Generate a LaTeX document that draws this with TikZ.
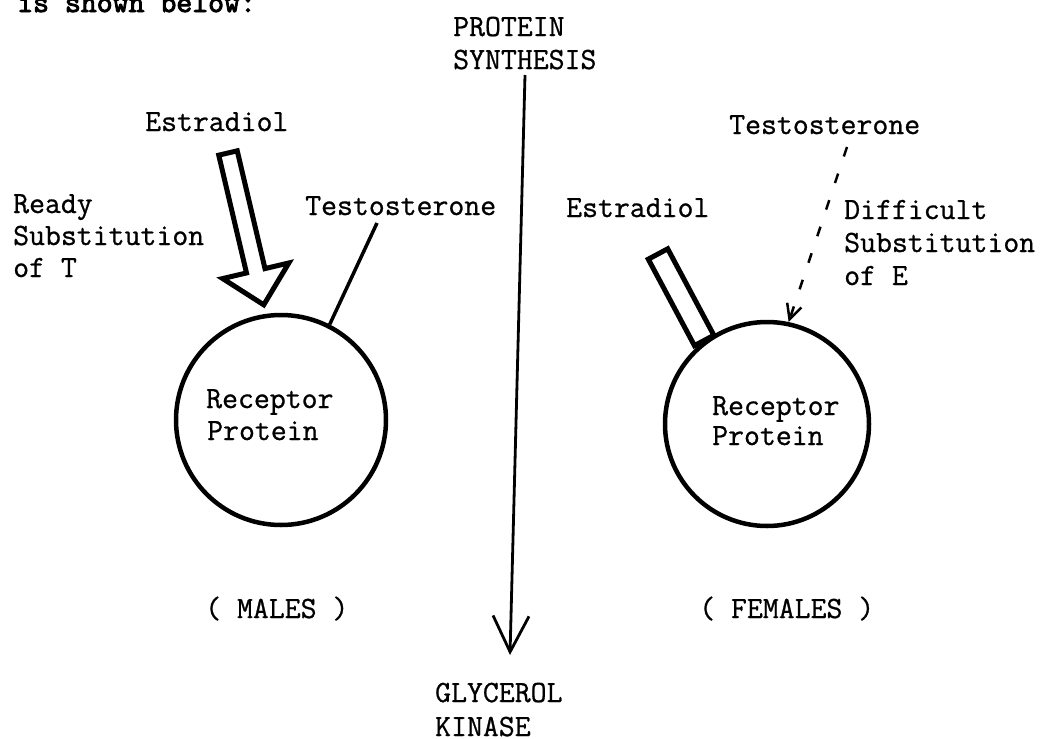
\documentclass[tikz,border=0pt]{standalone}
\usepackage{fontspec}
\newfontfamily\tw[FakeBold=0.8]{Latin Modern Mono}
\newfontfamily\twbold[FakeBold=3]{Latin Modern Mono}
\usetikzlibrary{arrows.meta}
\begin{document}
\begin{tikzpicture}[x=1pt,y=-1pt,
  lbl/.style={font=\tw\fontsize{30.9}{32}\selectfont, inner sep=0pt, anchor=base west},
  ring/.style={circle, draw, line width=4.5pt, inner sep=0pt},
  hormone/.style={draw, line width=5pt, fill=white, line join=miter},
  link/.style={line width=3.5pt},
  weaklink/.style={line width=2.5pt, dash pattern=on 10pt off 18pt, -{Straight Barb[length=15pt,width=15pt]}},
  pathway/.style={line width=2.8pt, -{Straight Barb[length=36pt,width=36pt]}}]
\fill[white] (0,0) rectangle (1042,739);
\useasboundingbox (0,0) rectangle (1042,739);

% header (cut off at top)
\node[lbl, font=\twbold\fontsize{30.9}{32}\selectfont] (hdr) at (17,12) {is shown below:};

% central pathway
\node[lbl] (ps1) at (453,36) {PROTEIN};
\node[lbl] (ps2) at (453,69) {SYNTHESIS};
\node[lbl] (gk1) at (435,702) {GLYCEROL};
\node[lbl] (gk2) at (435,736) {KINASE};
\coordinate (pstop) at (525,75);
\coordinate (gktip) at (510,655);
\draw[pathway] (pstop) -- (gktip);

% males
\node[ring, minimum size=210pt] (lc) at (281,420) {};
\node[lbl] (lr1) at (206,408) {Receptor};
\node[lbl] (lr2) at (207,440) {Protein};
\node[lbl] (ml) at (205,618) {( MALES )};
\node[lbl] (le) at (145,131) {Estradiol};
\node[lbl] (lt) at (305,215) {Testosterone};
\node[lbl] (rd1) at (13,213) {Ready};
\node[lbl] (rd2) at (13,245) {Substitution};
\node[lbl] (rd3) at (13,277) {of T};
\begin{scope}[shift={(228,153)}, rotate=-76.74]
  \draw[hormone] (0,-9.5) -- (121,-9.5) -- (121,-34) -- (156,0) -- (121,34) -- (121,9.5) -- (0,9.5) -- cycle;
\end{scope}
\coordinate (tl) at (377,223);
\draw[link] (tl) -- (lc.63);

% females
\node[ring, minimum size=204pt] (rc) at (767,424) {};
\node[lbl] (rr1) at (712,415) {Receptor};
\node[lbl] (rr2) at (712,445) {Protein};
\node[lbl] (fm) at (699,618) {( FEMALES )};
\node[lbl] (re) at (566,217) {Estradiol};
\node[lbl] (rt) at (729,134) {Testosterone};
\node[lbl] (df1) at (844,219) {Difficult};
\node[lbl] (df2) at (844,252) {Substitution};
\node[lbl] (df3) at (844,285) {of E};
\begin{scope}[shift={(658,254)}, rotate=-61.9]
  \draw[hormone] (0,-11) rectangle (98,11);
\end{scope}
\coordinate (tr) at (847,147);
\draw[weaklink] (tr) -- (rc.78);
\end{tikzpicture}
\end{document}
